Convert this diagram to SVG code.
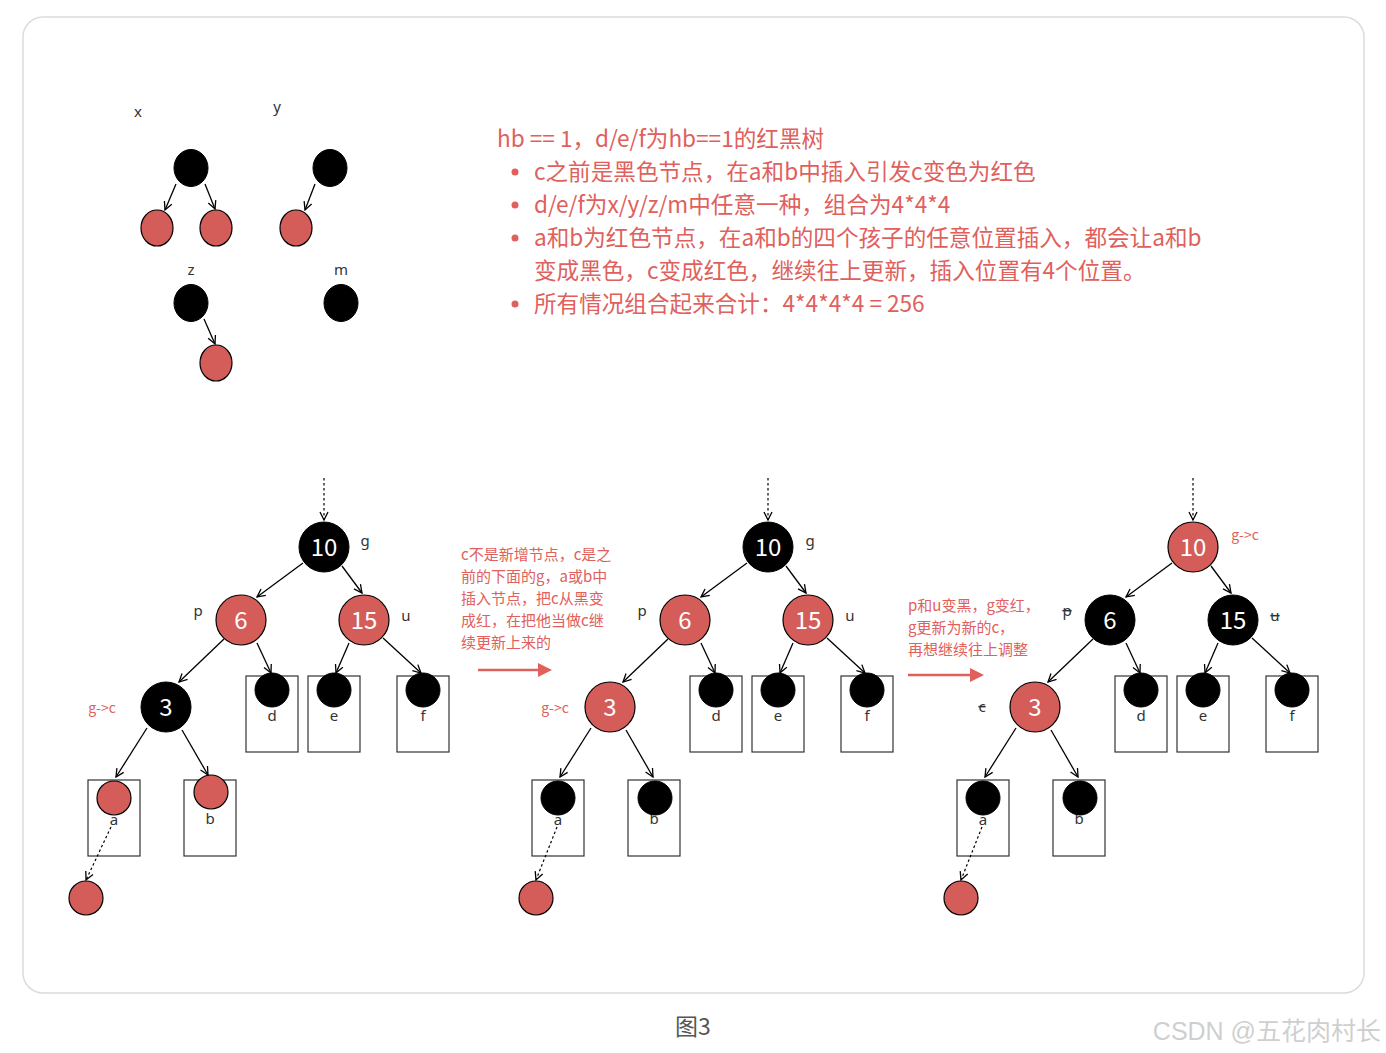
<svg xmlns="http://www.w3.org/2000/svg" width="1386" height="1053" viewBox="0 0 1386 1053">
<defs>
<marker id="arr" viewBox="0 0 10 10" refX="9" refY="5" markerWidth="10" markerHeight="10" markerUnits="userSpaceOnUse" orient="auto">
<path d="M1,1 L9,5 L1,9" fill="none" stroke="#000" stroke-width="1.3"/>
</marker>
<marker id="redarr" viewBox="0 0 14 14" refX="1" refY="7" markerWidth="14" markerHeight="14" markerUnits="userSpaceOnUse" orient="auto">
<path d="M0,0 L14,7 L0,14 Z" fill="#e0605c"/>
</marker>
</defs>
<style>
.frame{fill:#fff;stroke:#dcdcdc;stroke-width:1.5}
.blk{fill:#000;stroke:#000;stroke-width:1}
.red{fill:#d45d59;stroke:#000;stroke-width:1.2}
.box{fill:#fff;stroke:#333;stroke-width:1.2}
.edge{stroke:#000;stroke-width:1.3;fill:none;marker-end:url(#arr)}
.dot{stroke:#000;stroke-width:1.2;fill:none;stroke-dasharray:2.5 2.5;marker-end:url(#arr)}
.num{font-family:"Noto Sans CJK SC","Noto Sans",sans-serif;font-size:24px;fill:#fff;text-anchor:middle}
.lbl{font-family:"Noto Sans","Noto Sans CJK SC",sans-serif;font-size:15px;fill:#333;text-anchor:middle}
.rl{font-family:"Noto Sans CJK SC",sans-serif;font-size:14px;fill:#e0605c;text-anchor:middle}
.big{font-family:"Noto Sans CJK SC",sans-serif;font-size:22.6px;fill:#e0605c}
.mid{font-family:"Noto Sans CJK SC",sans-serif;font-size:15px;fill:#e0605c}
.strike{text-decoration:line-through}
</style>
<rect class="frame" x="23" y="17" width="1341" height="976" rx="20"/>

<!-- small trees -->
<g id="small-trees">
<text class="lbl" x="138" y="117">x</text>
<text class="lbl" x="277" y="112">y</text>
<text class="lbl" x="191" y="275">z</text>
<text class="lbl" x="341" y="275">m</text>
<g id="x-root"><ellipse class="blk" cx="191" cy="168" rx="17" ry="18.5"/></g>
<g id="x-left"><ellipse class="red" cx="157" cy="228" rx="16" ry="18"/></g>
<g id="x-right"><ellipse class="red" cx="216" cy="228" rx="16" ry="18"/></g>
<g id="y-root"><ellipse class="blk" cx="330" cy="168" rx="17" ry="18.5"/></g>
<g id="y-left"><ellipse class="red" cx="296" cy="228" rx="16" ry="18"/></g>
<g id="z-root"><ellipse class="blk" cx="191" cy="303" rx="17" ry="18.5"/></g>
<g id="z-right"><ellipse class="red" cx="216" cy="363" rx="16" ry="18"/></g>
<g id="m-root"><ellipse class="blk" cx="341" cy="303" rx="17" ry="18.5"/></g>
</g>
<g id="small-connectors">
<path class="edge" d="M176,184 L165,210"/>
<path class="edge" d="M205,184 L215,209"/>
<path class="edge" d="M315,184 L305,210"/>
<path class="edge" d="M204,319 L215,344"/>
</g>

<!-- text block -->
<g id="notes">
<text class="big" x="497" y="147">hb == 1，d/e/f为hb==1的红黑树</text>
<circle cx="515" cy="172" r="3.5" fill="#e0605c"/>
<text class="big" x="534" y="180">c之前是黑色节点，在a和b中插入引发c变色为红色</text>
<circle cx="515" cy="205" r="3.5" fill="#e0605c"/>
<text class="big" x="534" y="213">d/e/f为x/y/z/m中任意一种，组合为4*4*4</text>
<circle cx="515" cy="238" r="3.5" fill="#e0605c"/>
<text class="big" x="534" y="246">a和b为红色节点，在a和b的四个孩子的任意位置插入，都会让a和b</text>
<text class="big" x="534" y="279">变成黑色，c变成红色，继续往上更新，插入位置有4个位置。</text>
<circle cx="515" cy="304" r="3.5" fill="#e0605c"/>
<text class="big" x="534" y="312">所有情况组合起来合计：4*4*4*4 = 256</text>
</g>

<!-- Tree 1 -->
<g id="tree1">
<g id="t1-d"><rect class="box" x="246" y="676" width="52" height="76"/><circle class="blk" cx="272" cy="690" r="17"/><text class="lbl" x="272" y="721">d</text></g>
<g id="t1-e"><rect class="box" x="308" y="676" width="52" height="76"/><circle class="blk" cx="334" cy="690" r="17"/><text class="lbl" x="334" y="721">e</text></g>
<g id="t1-f"><rect class="box" x="397" y="676" width="52" height="76"/><circle class="blk" cx="423" cy="690" r="17"/><text class="lbl" x="423" y="721">f</text></g>
<g id="t1-a"><rect class="box" x="88" y="780" width="52" height="76"/><circle class="red" cx="114" cy="798" r="17"/><text class="lbl" x="114" y="825">a</text></g>
<g id="t1-b"><rect class="box" x="184" y="780" width="52" height="76"/><circle class="red" cx="211" cy="792" r="17"/><text class="lbl" x="210" y="824">b</text></g>
<g id="t1-new"><circle class="red" cx="86" cy="898" r="17"/></g>
<g id="t1-g"><circle class="blk" cx="324" cy="547" r="25"/><text class="num" x="324" y="556">10</text><text class="lbl" x="365" y="546">g</text></g>
<g id="t1-p"><circle class="red" cx="241" cy="620" r="25"/><text class="num" x="241" y="629">6</text><text class="lbl" x="198" y="616">p</text></g>
<g id="t1-u"><circle class="red" cx="364" cy="620" r="25"/><text class="num" x="364" y="629">15</text><text class="lbl" x="406" y="621">u</text></g>
<g id="t1-c"><circle class="blk" cx="166" cy="707" r="25"/><text class="num" x="166" y="716">3</text><text class="rl" x="102" y="713">g-&gt;c</text></g>
</g>
<g id="tree1-connectors">
<path class="dot" d="M324,478 L324,520"/>
<path class="edge" d="M303,563 L257,597"/>
<path class="edge" d="M342,566 L362,593"/>
<path class="edge" d="M224,639 L179,682"/>
<path class="edge" d="M257,643 L271,673"/>
<path class="edge" d="M349,643 L336,673"/>
<path class="edge" d="M383,638 L421,673"/>
<path class="edge" d="M147,728 L116,777"/>
<path class="edge" d="M182,730 L208,775"/>
<path class="dot" d="M111,827 L86,880"/>
</g>

<!-- middle note -->
<g id="note1">
<text class="mid" x="461" y="560">c不是新增节点，c是之</text>
<text class="mid" x="461" y="582">前的下面的g，a或b中</text>
<text class="mid" x="461" y="604">插入节点，把c从黑变</text>
<text class="mid" x="461" y="626">成红，在把他当做c继</text>
<text class="mid" x="461" y="648">续更新上来的</text>
</g>
<g id="note1-arrow"><path d="M478,670 L539,670" stroke="#e0605c" stroke-width="2.5" marker-end="url(#redarr)"/></g>

<!-- Tree 2 -->
<g id="tree2" transform="translate(444,0)">
<g id="t2-d"><rect class="box" x="246" y="676" width="52" height="76"/><circle class="blk" cx="272" cy="690" r="17"/><text class="lbl" x="272" y="721">d</text></g>
<g id="t2-e"><rect class="box" x="308" y="676" width="52" height="76"/><circle class="blk" cx="334" cy="690" r="17"/><text class="lbl" x="334" y="721">e</text></g>
<g id="t2-f"><rect class="box" x="397" y="676" width="52" height="76"/><circle class="blk" cx="423" cy="690" r="17"/><text class="lbl" x="423" y="721">f</text></g>
<g id="t2-a"><rect class="box" x="88" y="780" width="52" height="76"/><text class="lbl" x="114" y="825">a</text><circle class="blk" cx="114" cy="798" r="17"/></g>
<g id="t2-b"><rect class="box" x="184" y="780" width="52" height="76"/><text class="lbl" x="210" y="824">b</text><circle class="blk" cx="211" cy="798" r="17"/></g>
<g id="t2-new"><circle class="red" cx="92" cy="898" r="17"/></g>
<g id="t2-g"><circle class="blk" cx="324" cy="547" r="25"/><text class="num" x="324" y="556">10</text><text class="lbl" x="366" y="546">g</text></g>
<g id="t2-p"><circle class="red" cx="241" cy="620" r="25"/><text class="num" x="241" y="629">6</text><text class="lbl" x="198" y="616">p</text></g>
<g id="t2-u"><circle class="red" cx="364" cy="620" r="25"/><text class="num" x="364" y="629">15</text><text class="lbl" x="406" y="621">u</text></g>
<g id="t2-c"><circle class="red" cx="166" cy="707" r="25"/><text class="num" x="166" y="716">3</text><text class="rl" x="111" y="713">g-&gt;c</text></g>
</g>
<g id="tree2-connectors" transform="translate(444,0)">
<path class="dot" d="M324,478 L324,520"/>
<path class="edge" d="M303,563 L257,597"/>
<path class="edge" d="M342,566 L362,593"/>
<path class="edge" d="M224,639 L179,682"/>
<path class="edge" d="M257,643 L271,673"/>
<path class="edge" d="M349,643 L336,673"/>
<path class="edge" d="M383,638 L421,673"/>
<path class="edge" d="M147,728 L116,777"/>
<path class="edge" d="M182,730 L209,777"/>
<path class="dot" d="M113,827 L92,880"/>
</g>

<!-- right note -->
<g id="note2">
<text class="mid" x="908" y="611">p和u变黑，g变红，</text>
<text class="mid" x="908" y="633">g更新为新的c，</text>
<text class="mid" x="908" y="655">再想继续往上调整</text>
</g>
<g id="note2-arrow"><path d="M908,675 L971,675" stroke="#e0605c" stroke-width="2.5" marker-end="url(#redarr)"/></g>

<!-- Tree 3 -->
<g id="tree3" transform="translate(869,0)">
<g id="t3-d"><rect class="box" x="246" y="676" width="52" height="76"/><circle class="blk" cx="272" cy="690" r="17"/><text class="lbl" x="272" y="721">d</text></g>
<g id="t3-e"><rect class="box" x="308" y="676" width="52" height="76"/><circle class="blk" cx="334" cy="690" r="17"/><text class="lbl" x="334" y="721">e</text></g>
<g id="t3-f"><rect class="box" x="397" y="676" width="52" height="76"/><circle class="blk" cx="423" cy="690" r="17"/><text class="lbl" x="423" y="721">f</text></g>
<g id="t3-a"><rect class="box" x="88" y="780" width="52" height="76"/><text class="lbl" x="114" y="825">a</text><circle class="blk" cx="114" cy="798" r="17"/></g>
<g id="t3-b"><rect class="box" x="184" y="780" width="52" height="76"/><text class="lbl" x="210" y="824">b</text><circle class="blk" cx="211" cy="798" r="17"/></g>
<g id="t3-new"><circle class="red" cx="92" cy="898" r="17"/></g>
<g id="t3-g"><circle class="red" cx="324" cy="547" r="25"/><text class="num" x="324" y="556">10</text><text class="rl" x="376" y="540">g-&gt;c</text></g>
<g id="t3-p"><circle class="blk" cx="241" cy="620" r="25"/><text class="num" x="241" y="629">6</text><text class="lbl strike" x="198" y="616">p</text></g>
<g id="t3-u"><circle class="blk" cx="364" cy="620" r="25"/><text class="num" x="364" y="629">15</text><text class="lbl strike" x="406" y="621">u</text></g>
<g id="t3-c"><circle class="red" cx="166" cy="707" r="25"/><text class="num" x="166" y="716">3</text><text class="lbl strike" x="113" y="712">c</text></g>
</g>
<g id="tree3-connectors" transform="translate(869,0)">
<path class="dot" d="M324,478 L324,520"/>
<path class="edge" d="M303,563 L257,597"/>
<path class="edge" d="M342,566 L362,593"/>
<path class="edge" d="M224,639 L179,682"/>
<path class="edge" d="M257,643 L271,673"/>
<path class="edge" d="M349,643 L336,673"/>
<path class="edge" d="M383,638 L421,673"/>
<path class="edge" d="M147,728 L116,777"/>
<path class="edge" d="M182,730 L209,777"/>
<path class="dot" d="M113,827 L92,880"/>
</g>

<text x="693" y="1035" font-family="Noto Sans CJK SC,sans-serif" font-size="23" fill="#555" text-anchor="middle">图3</text>
<text x="1381" y="1040" font-family="Liberation Sans,Noto Sans CJK SC,sans-serif" font-size="25" fill="#cfcfcf" text-anchor="end">CSDN @五花肉村长</text>
</svg>
